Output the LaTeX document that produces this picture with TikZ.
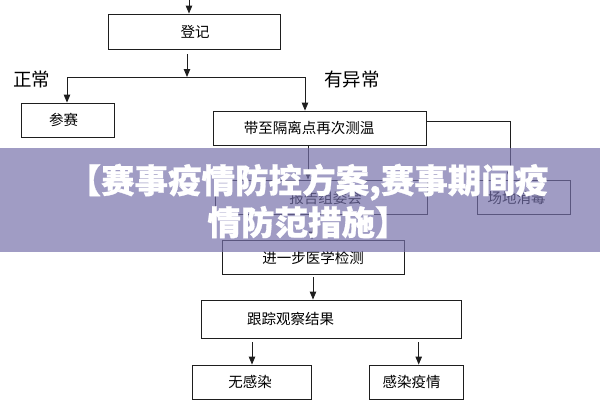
\documentclass[tikz,border=0pt]{standalone}
\usepackage{fontspec}
\newfontfamily\cjk{Noto Sans CJK SC}
\usetikzlibrary{arrows.meta}
\definecolor{linec}{RGB}{30,30,30}
\definecolor{bannerc}{RGB}{117,112,170}
\tikzset{
  box/.style={draw=linec, line width=0.9pt, rectangle, inner sep=0pt},
  txt/.style={font=\cjk\fontsize{14.5}{16}\selectfont, text=black, inner sep=0pt},
  lbl/.style={font=\cjk\fontsize{18.5}{20}\selectfont, text=black, inner sep=0pt},
  conn/.style={draw=linec, line width=0.9pt},
  arr/.style={conn, -{Triangle[width=6.5pt,length=8pt]}},
}
\begin{document}
\begin{tikzpicture}[x=1pt,y=-1pt]
\useasboundingbox (0,0) rectangle (600,400);
% boxes
\node[box, minimum width=172pt, minimum height=35pt] (dengji) at (194,31.5) {};
\node[box, minimum width=93pt, minimum height=34.5pt] (cansai) at (67.5,120.3) {};
\node[box, minimum width=212.5pt, minimum height=34.5pt] (daizhi) at (319.75,128.3) {};
\node[box, minimum width=212.5pt, minimum height=34pt] (baogao) at (321.25,197) {};
\node[box, minimum width=92.7pt, minimum height=34pt] (changdi) at (523.65,197) {};
\node[box, minimum width=181.5pt, minimum height=34pt] (jinyibu) at (313.25,257) {};
\node[box, minimum width=260.7pt, minimum height=38.7pt] (genzong) at (331.35,319.35) {};
\node[box, minimum width=119.5pt, minimum height=34pt] (wu) at (251.75,382) {};
\node[box, minimum width=93.3pt, minimum height=34pt] (ganran) at (416.35,382) {};
% texts
\node[txt] (t-dengji) at (195,31.5) {登记};
\node[txt] (t-cansai) at (63.5,120.3) {参赛};
\node[txt] (t-daizhi) at (309,128.3) {带至隔离点再次测温};
\node[txt] (t-baogao) at (325.5,198) {报告组委会};
\node[txt] (t-changdi) at (516.5,198) {场地消毒};
\node[txt] (t-jinyibu) at (313,258) {进一步医学检测};
\node[txt] (t-genzong) at (290.5,318.5) {跟踪观察结果};
\node[txt] (t-wu) at (250,382) {无感染};
\node[txt] (t-ganran) at (411.5,382) {感染疫情};
\node[lbl] (zhengchang) at (31.5,79) {正常};
\node[lbl] (youyichang) at (352,79) {有异常};
% connectors
\coordinate (top) at (189,0);
\coordinate (d0) at (187,54);
\coordinate (jm) at (187,77);
\coordinate (jl) at (67,77);
\coordinate (jr) at (305,77);
\coordinate (rc) at (510,121.7);
\draw[arr] (top) -- (top |- dengji.north);
\draw[arr] (d0) -- (jm);
\draw[conn] (jl) -- (jr);
\draw[arr] (jl) -- (jl |- cansai.north);
\draw[arr] (jr) -- (jr |- daizhi.north);
\draw[arr] (daizhi.south -| 308,0) -- (baogao.north -| 308,0);
\draw[arr] (daizhi.east |- rc) -- (rc) -- (rc |- changdi.north);
\draw[arr] (baogao.south -| 312,0) -- (jinyibu.north -| 312,0);
\draw[arr] ([yshift=-2.7pt]jinyibu.south -| 313,0) -- (genzong.north -| 313,0);
\draw[arr] ([yshift=-3pt]genzong.south -| 252,0) -- (wu.north -| 252,0);
\draw[arr] ([yshift=-3pt]genzong.south -| 418.7,0) -- (ganran.north -| 418.7,0);
% banner overlay
\fill[bannerc, fill opacity=0.69] (0,148.3) rectangle (600,251.7);
\node[font=\cjk\bfseries\addfontfeatures{FakeBold=0.8}\fontsize{33.5}{42}\selectfont, text=white, align=center, inner sep=0pt] (banner) at (308,201) {【赛事疫情防控方案,赛事期间疫\\情防范措施】};
\end{tikzpicture}
\end{document}
